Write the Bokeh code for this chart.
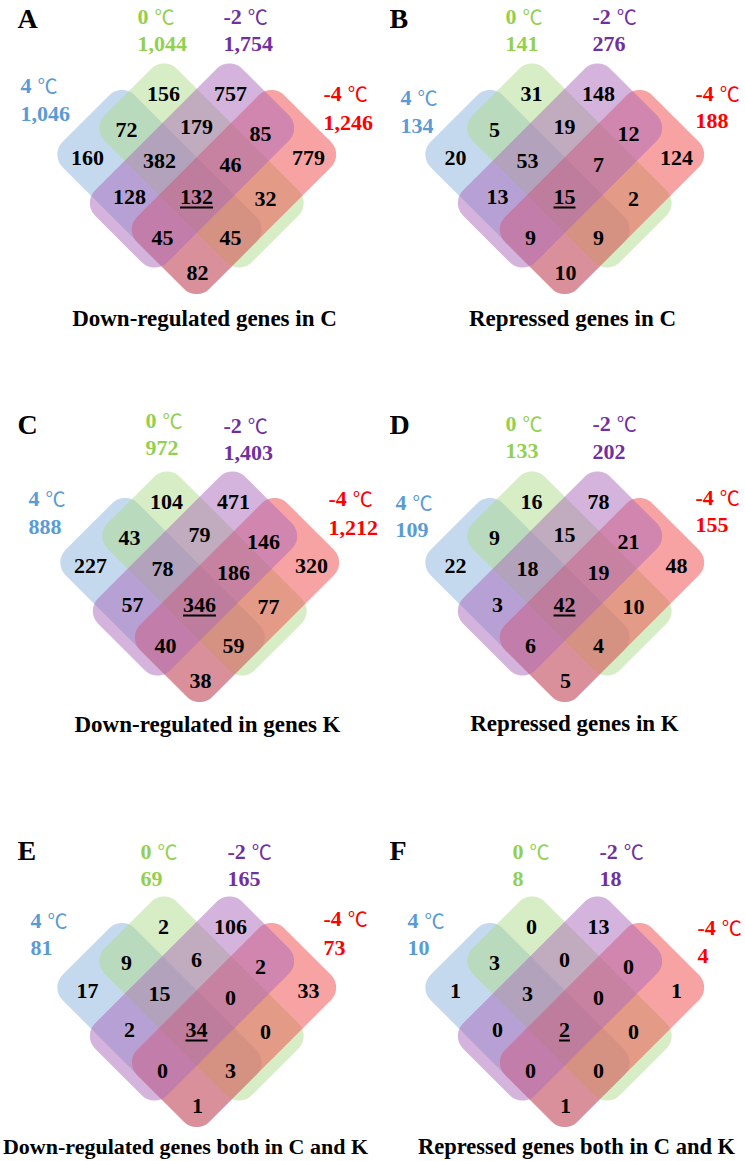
import numpy as np
from bokeh.plotting import figure
from bokeh.models import Range1d, ColumnDataSource
from bokeh.core.properties import value
from bokeh.embed import file_html
from bokeh.resources import INLINE

# ---------------- data ----------------
panel_letters = ["A", "B", "C", "D", "E", "F"]
titles = ["Down-regulated genes in C", "Repressed genes in C",
          "Down-regulated in genes K", "Repressed genes in K",
          "Down-regulated genes both in C and K", "Repressed genes both in C and K"]
set_temps = ["4", "0", "-2", "-4"]          # 4 ℃, 0 ℃, -2 ℃, -4 ℃
set_colors = ["#5b9bd5", "#92d050", "#7030a0", "#ff0000"]

# region order: 4, 0, -2, -4 only; 4&0, 0&-2, -2&-4, 4&0&-2, 0&-2&-4, 4&-2,
#               all, 0&-4, 4&-2&-4, 4&0&-4, 4&-4
region_keys = ["B", "G", "P", "R", "BG", "GP", "PR", "BGP", "GPR", "BP",
               "BGPR", "GR", "BPR", "BGR", "BR"]
counts_A = [160, 156, 757, 779, 72, 179, 85, 382, 46, 128, 132, 32, 45, 45, 82]
counts_B = [20, 31, 148, 124, 5, 19, 12, 53, 7, 13, 15, 2, 9, 9, 10]
counts_C = [227, 104, 471, 320, 43, 79, 146, 78, 186, 57, 346, 77, 40, 59, 38]
counts_D = [22, 16, 78, 48, 9, 15, 21, 18, 19, 3, 42, 10, 6, 4, 5]
counts_E = [17, 2, 106, 33, 9, 6, 2, 15, 0, 2, 34, 0, 0, 3, 1]
counts_F = [1, 0, 13, 1, 3, 0, 0, 3, 0, 0, 2, 0, 0, 0, 1]

totals_A = [1046, 1044, 1754, 1246]
totals_B = [134, 141, 276, 188]
totals_C = [888, 972, 1403, 1212]
totals_D = [109, 133, 202, 155]
totals_E = [81, 69, 165, 73]
totals_F = [10, 8, 18, 4]

counts = [counts_A, counts_B, counts_C, counts_D, counts_E, counts_F]
totals = [totals_A, totals_B, totals_C, totals_D, totals_E, totals_F]

# ---------------- layout (page pixels) ----------------
offsets = [(0, 0), (368, 0), (3, 408), (368, 408), (0, 833), (368, 833)]
region_pos = [(87, 157), (163, 93), (230, 93), (308, 157), (126, 129), (196, 126),
              (260, 133), (159, 160), (230, 164), (129, 196), (196, 196), (265, 198),
              (162, 237), (230, 237), (197, 272)]
# set labels: (left x, temp line y, count line y) for 4, 0, -2, -4
label_pos = [
    [(20, 85, 113), (137, 16, 43), (223, 16, 43), (323, 93, 122)],
    [(400, 97, 125), (505, 16, 43), (592, 16, 43), (695, 93, 120)],
    [(28, 498, 526), (145, 420, 447), (223, 425, 452), (328, 498, 527)],
    [(395, 502, 529), (505, 423, 450), (592, 423, 451), (695, 497, 524)],
    [(30, 920, 947), (140, 851, 878), (227, 851, 878), (323, 918, 947)],
    [(407, 920, 947), (512, 851, 878), (599, 851, 878), (697, 927, 955)],
]
title_pos = [(204, 318), (572, 318), (207, 724), (574, 723), (185, 1146), (576, 1146)]
title_sizes = ["23px", "23px", "23px", "23px", "22px", "22.5px"]
letter_pos = [(17, 18), (389, 18), (17, 424), (389, 424), (17, 850), (389, 850)]

shape_fill = ["#8bb3dd", "#afdc8c", "#aa69b9", "#f04848"]
draw_order = [0, 1, 3, 2]
shape_centers = [(159, 191.5), (201, 165), (191.5, 165), (233.5, 191.5)]
shape_dirs = [(1, 1), (1, 1), (-1, 1), (-1, 1)]
HALF_LONG, HALF_SHORT, RADIUS = 104, 51, 18

SERIF = value("Liberation Serif")
CJK = value("Noto Sans CJK SC")
FS = 22

W, H = 744, 1160
p = figure(width=W, height=H, x_range=Range1d(0, W), y_range=Range1d(H, 0),
           output_backend="svg", toolbar_location=None,
           x_axis_type=None, y_axis_type=None, min_border=0)
p.grid.visible = False
p.outline_line_color = None
p.background_fill_color = "white"
p.border_fill_color = "white"


def rounded_rect(cx, cy, a, b, r, d, n=14):
    ux, uy = d[0] / np.sqrt(2), d[1] / np.sqrt(2)
    vx, vy = uy, -ux
    ss, ts = [], []
    for s0, t0, ang in [(a - r, b - r, 0), (-(a - r), b - r, 90),
                        (-(a - r), -(b - r), 180), (a - r, -(b - r), 270)]:
        th = np.radians(np.linspace(ang, ang + 90, n))
        ss.append(s0 + r * np.cos(th))
        ts.append(t0 + r * np.sin(th))
    s = np.concatenate(ss)
    t = np.concatenate(ts)
    return cx + s * ux + t * vx, cy + s * uy + t * vy


for k in range(6):
    ox, oy = offsets[k]
    # shapes
    for i in draw_order:
        cx, cy = shape_centers[i]
        xs, ys = rounded_rect(cx + ox, cy + oy, HALF_LONG, HALF_SHORT, RADIUS, shape_dirs[i])
        p.patch(list(xs), list(ys), fill_color=shape_fill[i], fill_alpha=0.5, line_color=None)

    # region counts
    rx = [ox + q[0] for q in region_pos]
    ry = [oy + q[1] for q in region_pos]
    src = ColumnDataSource(dict(x=rx, y=ry, t=[str(c) for c in counts[k]]))
    p.text(x="x", y="y", text="t", source=src, text_font=SERIF, text_font_style="bold",
           text_font_size=f"{FS}px", text_align="center", text_baseline="middle",
           text_color="black")
    # underline of the four-way intersection
    ci = region_keys.index("BGPR")
    wlen = len(str(counts[k][ci])) * 0.5 * FS
    p.segment(x0=[rx[ci] - wlen / 2], y0=[ry[ci] + 11], x1=[rx[ci] + wlen / 2], y1=[ry[ci] + 11],
              line_color="black", line_width=2)

    # set labels
    for j in range(4):
        lx, ty, ny = label_pos[k][j]
        p.text(x=[lx], y=[ty], text=[set_temps[j]], text_font=SERIF, text_font_style="bold",
               text_font_size=f"{FS}px", text_align="left", text_baseline="middle",
               text_color=set_colors[j])
        pw = (0.5 + (0.333 if set_temps[j].startswith("-") else 0)) * FS
        p.text(x=[lx + pw + 6], y=[ty], text=["℃"], text_font=CJK, text_font_style="normal",
               text_font_size="20px", text_align="left", text_baseline="middle",
               text_color=set_colors[j])
        p.text(x=[lx], y=[ny], text=[f"{totals[k][j]:,}"], text_font=SERIF,
               text_font_style="bold", text_font_size=f"{FS}px", text_align="left",
               text_baseline="middle", text_color=set_colors[j])

    # title
    p.text(x=[title_pos[k][0]], y=[title_pos[k][1]], text=[titles[k]], text_font=SERIF,
           text_font_style="bold", text_font_size=title_sizes[k], text_align="center",
           text_baseline="middle", text_color="black")
    # panel letter
    p.text(x=[letter_pos[k][0]], y=[letter_pos[k][1]], text=[panel_letters[k]], text_font=SERIF,
           text_font_style="bold", text_font_size="28px", text_align="left",
           text_baseline="middle", text_color="black")

open("out.html", "w").write(file_html(p, INLINE))
